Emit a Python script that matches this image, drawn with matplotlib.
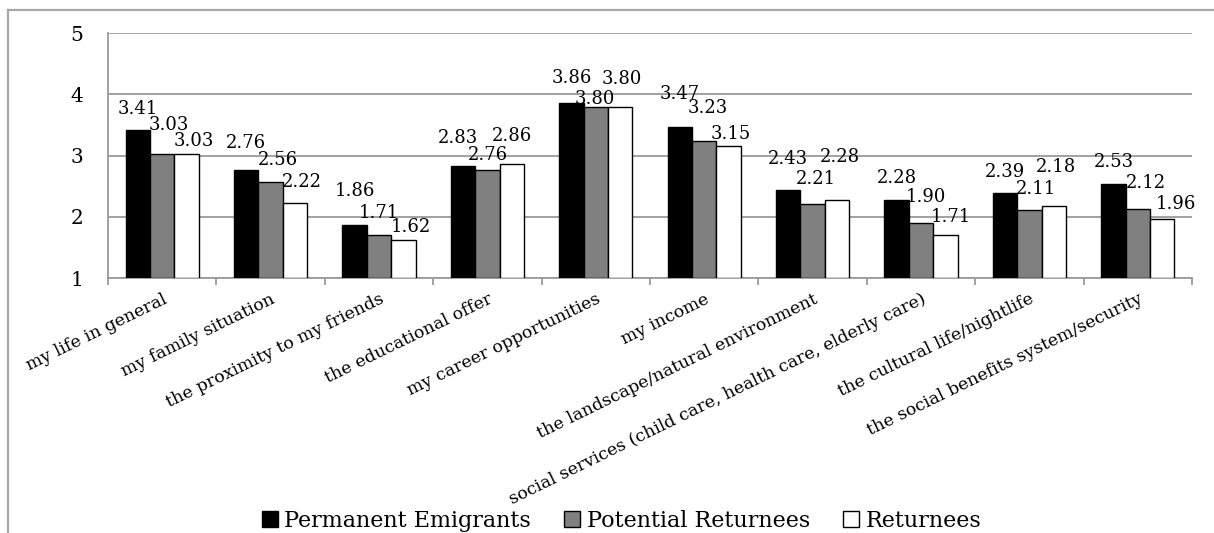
import numpy as np
import matplotlib
matplotlib.use('Agg')
import matplotlib.pyplot as plt
from matplotlib.lines import Line2D

plt.rcParams['font.family'] = ['DejaVu Serif']

# mean ratings per aspect and migration group
categories = ['my life in general', 'my family situation', 'the proximity to my friends',
              'the educational offer', 'my career opportunities', 'my income',
              'the landscape/natural environment',
              'social services (child care, health care, elderly care)',
              'the cultural life/nightlife', 'the social benefits system/security']
permanent = [3.41, 2.76, 1.86, 2.83, 3.86, 3.47, 2.43, 2.28, 2.39, 2.53]
potential = [3.03, 2.56, 1.71, 2.76, 3.80, 3.23, 2.21, 1.90, 2.11, 2.12]
returnees = [3.03, 2.22, 1.62, 2.86, 3.80, 3.15, 2.28, 1.71, 2.18, 1.96]
series_names = ['Permanent Emigrants', 'Potential Returnees', 'Returnees']

# value label nudges (pixels): horizontal shift and gap above the bar top
label_dx = [[0, 0, 0, -5, 0, 0, 0, 0, 0, 0],
            [7, 7, 0, 0, -1, 4, 3, 5, 7, 8],
            [7, 7, 7, 0, 2, 2, 3, 5, 2, 14]]
label_gap = [[16, 22, 29, 23, 20, 28, 26, 17, 16, 17],
             [24, 17, 17, 10, 3, 28, 20, 21, 16, 21],
             [8, 16, 8, 23, 23, 7, 38, 13, 34, 10]]

W, H = 1214, 533
fig = plt.figure(figsize=(W / 100, H / 100), dpi=100)
ax = fig.add_axes([108 / W, 1 - 278 / H, (1192 - 108) / W, (278 - 33) / H])

x = np.arange(len(categories))
bw = 0.225
colors = ['black', '#808080', 'white']
grid_c = '#9a9a9a'

for i, vals in enumerate([permanent, potential, returnees]):
    bars = ax.bar(x + (i - 1) * bw, np.array(vals) - 1, bw, bottom=1,
                  color=colors[i], edgecolor='black', linewidth=1.0,
                  label=series_names[i], zorder=3)
    for j, b in enumerate(bars):
        ax.annotate(f'{vals[j]:.2f}', (b.get_x() + b.get_width() / 2, vals[j]),
                    xytext=(label_dx[i][j], label_gap[i][j]), textcoords='offset pixels',
                    ha='center', va='baseline', fontsize=13, zorder=4)

ax.set_ylim(1, 5)
ax.set_xlim(-0.5, len(categories) - 0.5)
ax.set_yticks([1, 2, 3, 4, 5])
ax.tick_params(axis='y', length=0, pad=18, labelsize=14.5)
ax.yaxis.grid(True, color=grid_c, linewidth=1.3, zorder=0)

ax.set_xticks(x)
ax.set_xticklabels(categories, rotation=26, ha='right', rotation_mode='anchor', fontsize=12.5)
ax.tick_params(axis='x', length=0, pad=9)
ax.set_xticks(np.arange(len(categories) + 1) - 0.5, minor=True)
ax.tick_params(axis='x', which='minor', length=5, color=grid_c, width=1.3)

for s in ['top', 'right']:
    ax.spines[s].set_visible(False)
for s in ['left', 'bottom']:
    ax.spines[s].set_color(grid_c)
    ax.spines[s].set_linewidth(1.3)

# outer frame around the chart area
fig.add_artist(Line2D([8 / W, 8 / W], [0, 1 - 10 / H], color='#a8a8a8', lw=1.6))
fig.add_artist(Line2D([8 / W, 1], [1 - 10 / H, 1 - 10 / H], color='#a8a8a8', lw=1.6))

fig.legend(loc='lower center', bbox_to_anchor=(0.512, -0.035), ncol=3, frameon=False,
           fontsize=16, handlelength=0.7, handleheight=0.7, handletextpad=0.3,
           columnspacing=1.5)

fig.savefig('out.png', dpi=100)
